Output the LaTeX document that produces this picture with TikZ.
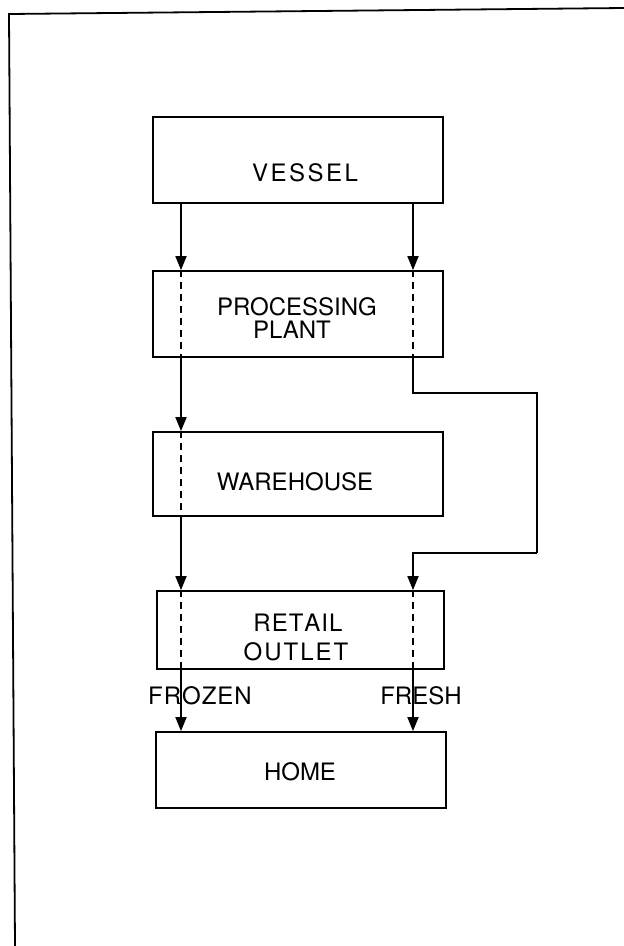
\documentclass[tikz,border=0pt]{standalone}
\usepackage{fontspec}
\setmainfont{TeX Gyre Heros}
\usetikzlibrary{arrows.meta}
\begin{document}
\begin{tikzpicture}[x=1pt,y=-1pt,
  box/.style={draw,line width=1.8pt,minimum width=290pt,minimum height=86pt,inner sep=0pt},
  lbl/.style={anchor=base,inner sep=0pt,font=\fontsize{24}{24}\selectfont},
  arr/.style={line width=1.8pt,-{Triangle[length=14pt,width=11pt]}},
  flow/.style={line width=1.8pt},
  dsh/.style={line width=1.5pt,dash pattern=on 7pt off 5pt},
  frame/.style={line width=1.8pt}]
\useasboundingbox (0,0) rectangle (624,946);
% frame (left and top edges of the page border)
\coordinate (f1) at (9,14);
\coordinate (f2) at (624,8);
\coordinate (f3) at (15,946);
\draw[frame] (f2) -- (f1) -- (f3);
% boxes
\node[box] (vessel) at (298,160) {};
\node[box] (proc)   at (298,314) {};
\node[box,minimum height=84pt] (ware) at (298,474) {};
\node[box,minimum width=287pt,minimum height=78pt] (retail) at (300.5,630) {};
\node[box,minimum height=76pt] (home) at (301,770) {};
% texts
\node[lbl] (tv) at (305,181.6) {V\kern2.5pt E\kern2.5pt S\kern2.5pt S\kern2.5pt E\kern2.5pt L};
\node[lbl] (tp1) at (297,315.6) {PROCESSING};
\node[lbl] (tp2) at (292,338.6) {PLANT};
\node[lbl] (tw) at (295,490.6) {WAREHOUSE};
\node[lbl] (tr1) at (298,631.6) {R\kern1pt E\kern1pt T\kern1pt A\kern1pt I\kern1pt L};
\node[lbl] (tr2) at (296,660.6) {O\kern2pt U\kern2pt T\kern2pt L\kern2pt E\kern2pt T};
\node[lbl] (tho) at (300,780.6) {HOME};
\node[lbl] (tfz) at (200,704.6) {F\kern1pt R\kern1pt O\kern1pt Z\kern1pt E\kern1pt N};
\node[lbl] (tfr) at (421,704.6) {FRESH};
% route x-positions
\coordinate (L) at (181,0);
\coordinate (R) at (413,0);
\coordinate (TR) at (537,393);
\coordinate (BR) at (537,553);
% connectors
\draw[arr] (vessel.south -| L) -- (proc.north -| L);
\draw[arr] (vessel.south -| R) -- (proc.north -| R);
\draw[dsh] (proc.north -| L) -- (proc.south -| L);
\draw[dsh] (proc.north -| R) -- (proc.south -| R);
\draw[arr] (proc.south -| L) -- (ware.north -| L);
\draw[flow] (proc.south -| R) |- (TR) -- (BR);
\draw[arr] (BR) -| (retail.north -| R);
\draw[dsh] (ware.north -| L) -- (ware.south -| L);
\draw[arr] (ware.south -| L) -- (retail.north -| L);
\draw[dsh] (retail.north -| L) -- (retail.south -| L);
\draw[dsh] (retail.north -| R) -- (retail.south -| R);
\draw[arr] (retail.south -| L) -- (home.north -| L);
\draw[arr] (retail.south -| R) -- (home.north -| R);
\end{tikzpicture}
\end{document}
